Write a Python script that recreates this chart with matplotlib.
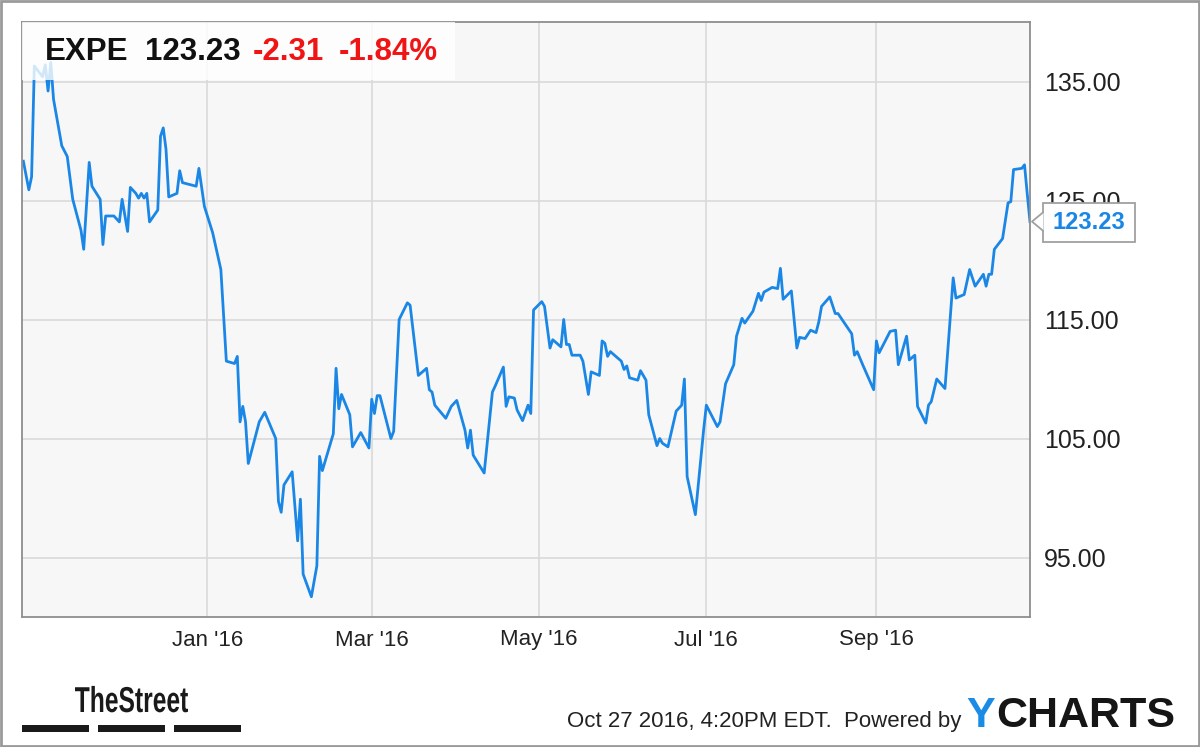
import matplotlib
matplotlib.use("Agg")
import pandas as pd
import matplotlib.pyplot as plt
import matplotlib.dates as mdates
import matplotlib.transforms as mtransforms
from matplotlib.patches import Rectangle, Polygon, PathPatch
from matplotlib.textpath import TextPath
from matplotlib.font_manager import FontProperties

plt.rcParams['font.family'] = ['Liberation Sans', 'DejaVu Sans']

ticker = "EXPE"
last_price = 123.23
change = -2.31
change_pct = -1.84
stamp = "Oct 27 2016, 4:20PM EDT.  Powered by"

dates = [
    "2015-10-26", "2015-10-28", "2015-10-29", "2015-10-30", "2015-11-02", "2015-11-03",
    "2015-11-04", "2015-11-05", "2015-11-06", "2015-11-09", "2015-11-11", "2015-11-13",
    "2015-11-16", "2015-11-17", "2015-11-19", "2015-11-20", "2015-11-23", "2015-11-24",
    "2015-11-25", "2015-11-28", "2015-11-30", "2015-12-01", "2015-12-03", "2015-12-04",
    "2015-12-06", "2015-12-07", "2015-12-08", "2015-12-09", "2015-12-10", "2015-12-11",
    "2015-12-14", "2015-12-15", "2015-12-16", "2015-12-17", "2015-12-18", "2015-12-21",
    "2015-12-22", "2015-12-23", "2015-12-28", "2015-12-29", "2015-12-31",
    "2016-01-03", "2016-01-06", "2016-01-08", "2016-01-11", "2016-01-12", "2016-01-13",
    "2016-01-14", "2016-01-15", "2016-01-16", "2016-01-20", "2016-01-22", "2016-01-26",
    "2016-01-27", "2016-01-28", "2016-01-29", "2016-02-01", "2016-02-03", "2016-02-04",
    "2016-02-05", "2016-02-08", "2016-02-10", "2016-02-11", "2016-02-12", "2016-02-16",
    "2016-02-17", "2016-02-18", "2016-02-19", "2016-02-22", "2016-02-23", "2016-02-26",
    "2016-02-29", "2016-03-01", "2016-03-02", "2016-03-03", "2016-03-04", "2016-03-08",
    "2016-03-09", "2016-03-11", "2016-03-14", "2016-03-15", "2016-03-18", "2016-03-21",
    "2016-03-22", "2016-03-23", "2016-03-24", "2016-03-28", "2016-03-30", "2016-04-01",
    "2016-04-04", "2016-04-05", "2016-04-06", "2016-04-07", "2016-04-11", "2016-04-14",
    "2016-04-15", "2016-04-18", "2016-04-19", "2016-04-20", "2016-04-22", "2016-04-23",
    "2016-04-25", "2016-04-27", "2016-04-28", "2016-04-29", "2016-05-02", "2016-05-03",
    "2016-05-05", "2016-05-06", "2016-05-09", "2016-05-10", "2016-05-11", "2016-05-12",
    "2016-05-13", "2016-05-16", "2016-05-17", "2016-05-19", "2016-05-20", "2016-05-23",
    "2016-05-24", "2016-05-25", "2016-05-26", "2016-05-27", "2016-05-31", "2016-06-01",
    "2016-06-02", "2016-06-03", "2016-06-06", "2016-06-07", "2016-06-09", "2016-06-10",
    "2016-06-13", "2016-06-14", "2016-06-15", "2016-06-17", "2016-06-20", "2016-06-22",
    "2016-06-23", "2016-06-24", "2016-06-27", "2016-06-30", "2016-07-01", "2016-07-05",
    "2016-07-06", "2016-07-08", "2016-07-11", "2016-07-12", "2016-07-14", "2016-07-15",
    "2016-07-18", "2016-07-20", "2016-07-21", "2016-07-22", "2016-07-25", "2016-07-27",
    "2016-07-28", "2016-07-29", "2016-08-01", "2016-08-03", "2016-08-04", "2016-08-06",
    "2016-08-08", "2016-08-10", "2016-08-11", "2016-08-12", "2016-08-15", "2016-08-17",
    "2016-08-18", "2016-08-23", "2016-08-24", "2016-08-25", "2016-08-27", "2016-08-31",
    "2016-09-01", "2016-09-02", "2016-09-06", "2016-09-08", "2016-09-09", "2016-09-12",
    "2016-09-13", "2016-09-15", "2016-09-16", "2016-09-19", "2016-09-20", "2016-09-21",
    "2016-09-23", "2016-09-26", "2016-09-29", "2016-09-30", "2016-10-03", "2016-10-05",
    "2016-10-07", "2016-10-10", "2016-10-11", "2016-10-12", "2016-10-13", "2016-10-14",
    "2016-10-17", "2016-10-19", "2016-10-20", "2016-10-21", "2016-10-24", "2016-10-25",
    "2016-10-26", "2016-10-27",
]

closes = [
    128.3, 125.9, 127.0, 136.3, 135.4, 136.4,
    134.2, 136.6, 133.5, 129.6, 128.7, 125.1,
    122.5, 120.9, 128.2, 126.2, 125.1, 121.3,
    123.7, 123.7, 123.2, 125.1, 122.4, 126.1,
    125.6, 125.2, 125.6, 125.2, 125.6, 123.2,
    124.2, 130.4, 131.1, 129.3, 125.3, 125.6,
    127.5, 126.5, 126.2, 127.7, 124.5,
    122.3, 119.2, 111.5, 111.3, 111.9, 106.4,
    107.7, 106.4, 102.9, 106.4, 107.2, 105.0,
    99.7, 98.8, 101.1, 102.2, 96.4, 99.9,
    93.6, 91.7, 94.3, 103.5, 102.3, 105.4,
    110.9, 107.5, 108.7, 107.0, 104.3, 105.5,
    104.2, 108.3, 107.1, 108.6, 108.6, 105.0,
    105.6, 115.0, 116.4, 116.2, 110.3, 110.9,
    109.1, 108.9, 107.8, 106.7, 107.7, 108.2,
    105.7, 104.2, 105.7, 103.6, 102.1, 108.9,
    109.4, 111.0, 107.7, 108.5, 108.4, 107.4,
    106.5, 107.8, 107.1, 115.8, 116.5, 116.1,
    112.6, 113.3, 112.7, 115.0, 112.9, 112.9,
    112.0, 112.0, 111.5, 108.7, 110.6, 110.3,
    113.2, 113.0, 111.9, 112.3, 111.5, 110.8,
    111.1, 110.1, 109.9, 110.7, 109.9, 107.0,
    104.4, 105.0, 104.6, 104.3, 107.3, 107.8,
    110.0, 101.8, 98.6, 105.7, 107.8, 106.0,
    106.4, 109.6, 111.2, 113.6, 115.1, 114.7,
    115.7, 117.2, 116.6, 117.3, 117.7, 117.6,
    119.3, 116.7, 117.4, 112.6, 113.5, 113.4,
    114.1, 113.9, 114.8, 116.1, 116.9, 115.5,
    115.5, 113.8, 112.0, 112.3, 111.2, 109.1,
    113.2, 112.2, 114.0, 114.1, 111.2, 113.6,
    111.6, 112.0, 107.7, 106.3, 107.8, 108.1,
    110.0, 109.2, 118.5, 116.8, 117.1, 119.2,
    117.8, 118.8, 117.8, 118.8, 118.8, 120.9,
    121.8, 124.8, 124.9, 127.6, 127.7, 128.0,
    125.54, 123.23,
]

x = pd.to_datetime(dates)

W, H = 1200, 747
fig = plt.figure(figsize=(12, 7.47), dpi=100)
ax = fig.add_axes([22 / W, 130 / H, 1008 / W, 595 / H])
ax.set_facecolor('#f7f7f7')

line_blue = '#1a87e6'
ax.plot(x, closes, color=line_blue, lw=2.0, zorder=2, solid_joinstyle='round')

ax.set_xlim(pd.Timestamp("2015-10-25 12:00"), pd.Timestamp("2016-10-27"))
ax.set_ylim(90, 140)
ax.set_yticks([95, 105, 115, 125, 135])
ax.yaxis.set_major_formatter(plt.FuncFormatter(lambda v, p: f"{v:.2f}"))
ax.xaxis.set_major_locator(mdates.MonthLocator(bymonth=[1, 3, 5, 7, 9]))
ax.xaxis.set_major_formatter(mdates.DateFormatter("%b '%y"))

ax.grid(True, color='#d9d9d9', lw=1.2, zorder=0)
ax.set_axisbelow(True)
ax.yaxis.tick_right()
ax.tick_params(axis='y', length=0, pad=10, labelsize=18, labelcolor='#222222')
ax.tick_params(axis='x', length=0, pad=9, labelsize=16, labelcolor='#222222')
for s in ax.spines.values():
    s.set_color('#8e8e8e')
    s.set_linewidth(1.3)

# header box over the top-left of the plot
ax.add_patch(Rectangle((0, 0.9025), 0.43, 0.0975, transform=ax.transAxes,
                       facecolor='white', alpha=0.8, edgecolor='none', zorder=3))
fig.text(45 / W, 1 - 60.5 / H, ticker, fontsize=22.5, fontweight='bold', color='#111111')
fig.text(145 / W, 1 - 60.5 / H, f"{last_price:.2f}", fontsize=22.5, fontweight='bold', color='#111111')
fig.text(253 / W, 1 - 60.5 / H, f"{change:.2f}", fontsize=22.5, fontweight='bold', color='#f01414')
fig.text(339 / W, 1 - 60.5 / H, f"{change_pct:.2f}%", fontsize=22.5, fontweight='bold', color='#f01414')

# last value callout
anchor = fig.dpi_scale_trans + mtransforms.ScaledTranslation(
    mdates.date2num(x[-1]), closes[-1], ax.transData)
ax.add_patch(Rectangle((0.125, -0.20), 0.925, 0.385, transform=anchor, facecolor='white',
                       edgecolor='#a0a0a0', lw=1.3, clip_on=False, zorder=5))
ax.add_patch(Polygon([(0.02, 0.0), (0.135, 0.09), (0.135, -0.09)], closed=True, transform=anchor,
                     facecolor='white', edgecolor='none', clip_on=False, zorder=6))
ax.plot([0.128, 0.02, 0.128], [0.09, 0.0, -0.09], transform=anchor, color='#a0a0a0',
        lw=1.3, clip_on=False, zorder=7)
ax.text(0.585, -0.005, f"{last_price:.2f}", transform=anchor, ha='center', va='center',
        fontsize=17, fontweight='bold', color=line_blue, zorder=8, clip_on=False)

# footer: TheStreet wordmark, drawn condensed
logo = TextPath((0, 0), "TheStreet", size=36,
                prop=FontProperties(family='Liberation Sans', weight='bold'))
lb = logo.get_extents()
sx = 113 / lb.width
fig.patches.append(PathPatch(logo, facecolor='#1a1a1a', edgecolor='none',
                             transform=mtransforms.Affine2D().translate(-lb.x0, 0)
                             .scale(sx, 1.0).translate(75, H - 712)))
for bx in (22, 98, 174):
    fig.patches.append(Rectangle((bx / W, 1 - 732 / H), 67 / W, 7 / H,
                                 transform=fig.transFigure, facecolor='#1a1a1a', edgecolor='none'))
fig.text(567 / W, 1 - 727.5 / H, stamp, fontsize=16, color='#222222')
fig.text(966 / W, 1 - 727 / H, "Y", fontsize=31, fontweight='bold', color='#1a8ce6')
fig.text(996 / W, 1 - 727 / H, "CHARTS", fontsize=31, fontweight='bold', color='#151515')

# outer frame
fig.patches.append(Rectangle((0.001, 0.0015), 0.998, 0.997, transform=fig.transFigure,
                             facecolor='none', edgecolor='#9a9a9a', lw=2))

fig.savefig("out.png", dpi=100, facecolor='white')
